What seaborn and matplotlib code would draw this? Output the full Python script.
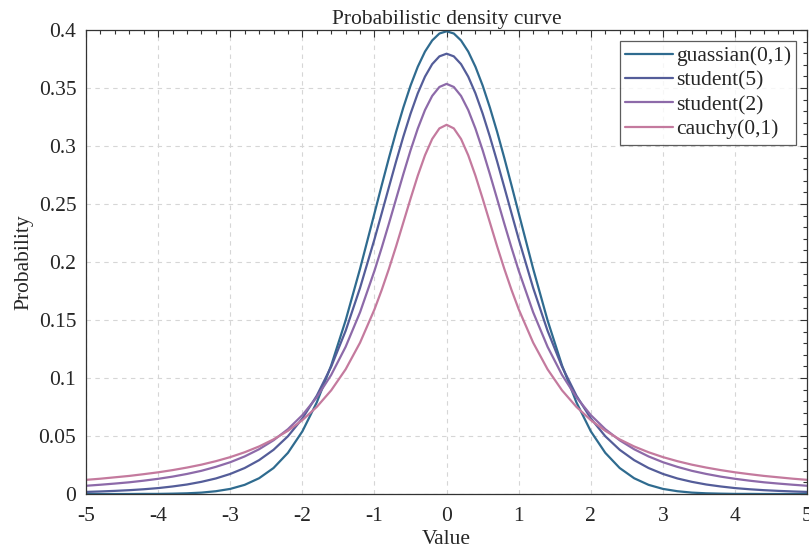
import seaborn as sns
import matplotlib.pyplot as plt
import matplotlib.ticker as mticker
import pandas as pd

# x grid: step 0.2 in the tails, 0.1 around the peak
x = [-5.0, -4.8, -4.6, -4.4, -4.2, -4.0, -3.8, -3.6, -3.4, -3.2, -3.0,
     -2.8, -2.6, -2.4, -2.2, -2.0, -1.8, -1.6, -1.4, -1.2,
     -1.0, -0.9, -0.8, -0.7, -0.6, -0.5, -0.4, -0.3, -0.2, -0.1, 0.0,
     0.1, 0.2, 0.3, 0.4, 0.5, 0.6, 0.7, 0.8, 0.9, 1.0,
     1.2, 1.4, 1.6, 1.8, 2.0, 2.2, 2.4, 2.6, 2.8, 3.0,
     3.2, 3.4, 3.6, 3.8, 4.0, 4.2, 4.4, 4.6, 4.8, 5.0]

gaussian = [0.0000, 0.0000, 0.0000, 0.0000, 0.0001, 0.0001, 0.0003, 0.0006, 0.0012, 0.0024, 0.0044,
            0.0079, 0.0136, 0.0224, 0.0355, 0.0540, 0.0790, 0.1109, 0.1497, 0.1942,
            0.2420, 0.2661, 0.2897, 0.3123, 0.3332, 0.3521, 0.3683, 0.3814, 0.3910, 0.3970, 0.3989,
            0.3970, 0.3910, 0.3814, 0.3683, 0.3521, 0.3332, 0.3123, 0.2897, 0.2661, 0.2420,
            0.1942, 0.1497, 0.1109, 0.0790, 0.0540, 0.0355, 0.0224, 0.0136, 0.0079, 0.0044,
            0.0024, 0.0012, 0.0006, 0.0003, 0.0001, 0.0001, 0.0000, 0.0000, 0.0000, 0.0000]

student5 = [0.0018, 0.0022, 0.0027, 0.0033, 0.0041, 0.0051, 0.0065, 0.0082, 0.0105, 0.0134, 0.0173,
            0.0224, 0.0292, 0.0381, 0.0498, 0.0651, 0.0848, 0.1098, 0.1407, 0.1777,
            0.2197, 0.2420, 0.2645, 0.2868, 0.3081, 0.3279, 0.3454, 0.3598, 0.3706, 0.3773, 0.3796,
            0.3773, 0.3706, 0.3598, 0.3454, 0.3279, 0.3081, 0.2868, 0.2645, 0.2420, 0.2197,
            0.1777, 0.1407, 0.1098, 0.0848, 0.0651, 0.0498, 0.0381, 0.0292, 0.0224, 0.0173,
            0.0134, 0.0105, 0.0082, 0.0065, 0.0051, 0.0041, 0.0033, 0.0027, 0.0022, 0.0018]

student2 = [0.0071, 0.0080, 0.0090, 0.0101, 0.0115, 0.0131, 0.0150, 0.0173, 0.0200, 0.0234, 0.0274,
            0.0324, 0.0386, 0.0463, 0.0559, 0.0680, 0.0834, 0.1027, 0.1269, 0.1567,
            0.1925, 0.2123, 0.2331, 0.2545, 0.2758, 0.2963, 0.3150, 0.3310, 0.3432, 0.3509, 0.3536,
            0.3509, 0.3432, 0.3310, 0.3150, 0.2963, 0.2758, 0.2545, 0.2331, 0.2123, 0.1925,
            0.1567, 0.1269, 0.1027, 0.0834, 0.0680, 0.0559, 0.0463, 0.0386, 0.0324, 0.0274,
            0.0234, 0.0200, 0.0173, 0.0150, 0.0131, 0.0115, 0.0101, 0.0090, 0.0080, 0.0071]

cauchy = [0.0122, 0.0132, 0.0144, 0.0156, 0.0171, 0.0187, 0.0206, 0.0228, 0.0253, 0.0283, 0.0318,
          0.0360, 0.0410, 0.0471, 0.0545, 0.0637, 0.0751, 0.0894, 0.1075, 0.1305,
          0.1592, 0.1759, 0.1941, 0.2136, 0.2341, 0.2546, 0.2744, 0.2920, 0.3061, 0.3152, 0.3183,
          0.3152, 0.3061, 0.2920, 0.2744, 0.2546, 0.2341, 0.2136, 0.1941, 0.1759, 0.1592,
          0.1305, 0.1075, 0.0894, 0.0751, 0.0637, 0.0545, 0.0471, 0.0410, 0.0360, 0.0318,
          0.0283, 0.0253, 0.0228, 0.0206, 0.0187, 0.0171, 0.0156, 0.0144, 0.0132, 0.0122]

names = ['guassian(0,1)', 'student(5)', 'student(2)', 'cauchy(0,1)']
colors = ['#2f6b8f', '#545d99', '#8d6aa9', '#c47a9e']

df = pd.concat([
    pd.DataFrame({'Value': x, 'Probability': y, 'dist': n})
    for n, y in zip(names, [gaussian, student5, student2, cauchy])
])

sns.set_style('white')
plt.rcParams['font.family'] = ['Liberation Serif', 'DejaVu Serif']
plt.rcParams['axes.unicode_minus'] = False

fig = plt.figure(figsize=(8.09, 5.5), dpi=100)
ax = fig.add_axes([0.1063, 0.1018, 0.8915, 0.8436])

sns.lineplot(data=df, x='Value', y='Probability', hue='dist', hue_order=names,
             palette=colors, linewidth=1.6, ax=ax, sort=False)

ax.set_xlim(-5, 5)
ax.set_ylim(0, 0.4)
ax.set_xticks(range(-5, 6))
ax.set_yticks([0, 0.05, 0.1, 0.15, 0.2, 0.25, 0.3, 0.35, 0.4])
ax.yaxis.set_major_formatter(mticker.FuncFormatter(lambda v, p: '%g' % round(v, 4)))
ax.xaxis.set_minor_locator(mticker.MultipleLocator(0.2))
ax.yaxis.set_minor_locator(mticker.MultipleLocator(0.01))
ax.tick_params(which='both', direction='in', top=True, right=True,
               labelsize=15.5, color='#333333', width=0.8)
ax.tick_params(which='major', length=5)
ax.tick_params(axis='x', which='major', pad=9)
ax.tick_params(axis='y', which='major', pad=7)
ax.tick_params(which='minor', length=3)
ax.grid(True, which='major', linestyle=(0, (4, 4)), color='#d6d6d6', linewidth=0.8)
for s in ax.spines.values():
    s.set_color('#333333')
    s.set_linewidth(0.9)

ax.set_title('Probabilistic density curve', fontsize=15.5, pad=4)
ax.set_xlabel('Value', fontsize=15.5, labelpad=3)
ax.set_ylabel('Probability', fontsize=15.5, labelpad=4)

leg = ax.legend(loc='upper right', fontsize=15.5, frameon=True, fancybox=False,
                edgecolor='#333333', handlelength=2.2, handletextpad=0.15,
                labelspacing=0.2, borderpad=0.25, borderaxespad=0.5)
leg.get_frame().set_linewidth(0.9)

fig.savefig('out.png', dpi=100)
